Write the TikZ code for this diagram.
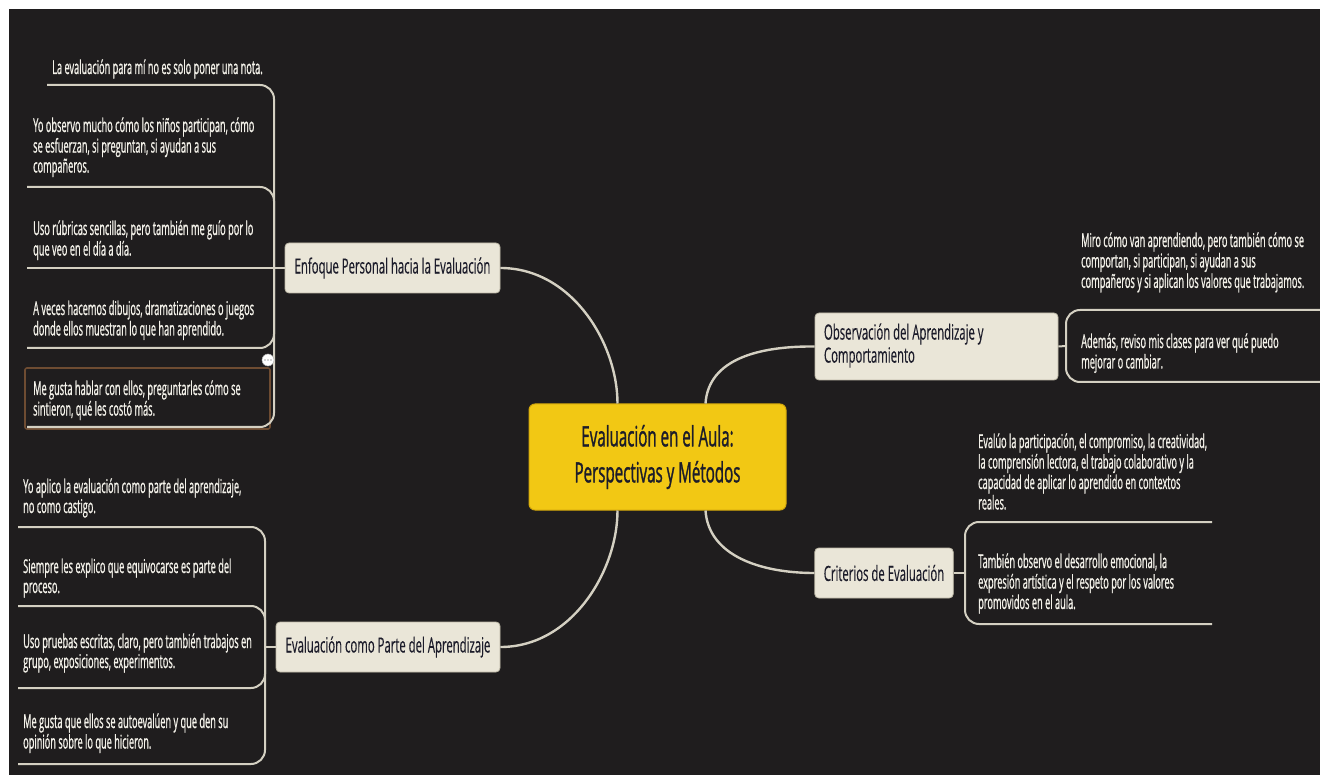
\documentclass[tikz,border=0pt]{standalone}
\usepackage{fontspec}
\setmainfont{Open Sans}
\newfontfamily\leaffont{Open Sans}[FakeStretch=0.485,FakeBold=0.8]
\newfontfamily\topicfont{Open Sans}[FakeStretch=0.54,FakeBold=0.3]
\newfontfamily\centralfont{Open Sans}[FakeStretch=0.54,FakeBold=1]
\usetikzlibrary{calc}
\definecolor{bg}{HTML}{1F1D1E}
\definecolor{linec}{HTML}{D4D0C2}
\definecolor{boxfill}{HTML}{EAE6D8}
\definecolor{boxdraw}{HTML}{BDB8A6}
\definecolor{yel}{HTML}{F2C814}
\definecolor{yeldraw}{HTML}{D4A80C}
\definecolor{boxtext}{HTML}{1C1C2A}
\definecolor{leaftext}{HTML}{F4F2EA}
\definecolor{selc}{HTML}{6E4C32}
\newcommand\mlines[1]{\begin{tabular}[t]{@{}l@{}}#1\end{tabular}}
\newcommand\mlinesc[1]{\begin{tabular}{@{}l@{}}#1\end{tabular}}
\begin{document}
\begin{tikzpicture}[x=1pt,y=-1pt,
  topic/.style={draw=boxdraw, fill=boxfill, rounded corners=4pt, line width=0.8pt,
    text=boxtext, font=\topicfont\fontsize{21}{23}\selectfont, inner xsep=9pt, inner ysep=0pt},
  central/.style={draw=yeldraw, fill=yel, rounded corners=6pt, line width=1pt,
    text=boxtext, font=\centralfont\fontsize{28}{36}\selectfont, align=center, inner sep=0pt},
  leaf/.style={text=leaftext, font=\leaffont\fontsize{19}{20}\selectfont, inner sep=0pt, anchor=base west},
  branch/.style={draw=linec, line width=2.4pt},
  uline/.style={draw=linec, line width=2pt, rounded corners=14pt},
]
% background
\fill[white] (0,0) rectangle (1320,775);
\fill[bg] (9,9) rectangle (1320,775);
\useasboundingbox (0,0) rectangle (1320,775);

% central and main topics
\node[central, minimum width=257pt, minimum height=106pt] (cen) at (657.5,457)
  {Evaluación en el Aula:\\Perspectivas y Métodos};
\node[topic, minimum width=215pt, minimum height=50pt] (ep) at (392.5,268)
  {Enfoque Personal hacia la Evaluación};
\node[topic, minimum width=224pt, minimum height=50pt] (eb) at (388,647)
  {Evaluación como Parte del Aprendizaje};
\node[topic, minimum width=243pt, minimum height=67pt] (ob) at (936.5,346.5)
  {\makebox[225pt][l]{\mlinesc{Observación del Aprendizaje y\\Comportamiento}}};
\node[topic, minimum width=138pt, minimum height=50pt] (cb) at (884,573)
  {Criterios de Evaluación};

% main connectors
\draw[branch] (ep.east) .. controls (572,268) and ($(cen.north west)+(89,-60)$) .. ($(cen.north west)+(89,0)$);
\draw[branch] (eb.east) .. controls (572,647) and ($(cen.south west)+(89,60)$) .. ($(cen.south west)+(89,0)$);
\draw[branch] ($(cen.north west)+(177,0)$) .. controls ($(cen.north west)+(180,-45)$) and (760,346) .. (ob.west);
\draw[branch] ($(cen.south west)+(177,0)$) .. controls ($(cen.south west)+(180,45)$) and (760,573) .. (cb.west);

% selection frame
\draw[selc, line width=1.6pt, rounded corners=2pt] (25,368) rectangle (270,429);

% left top leaves
\coordinate (ltj) at (274,268);
\coordinate (lt1u) at (47,85);
\coordinate (lt2u) at (27,187);
\coordinate (lt3u) at (27,268);
\coordinate (lt4u) at (27,348);
\coordinate (lt5u) at (27,427);
\node[leaf] (lt1) at (52,74) {\mlines{La evaluación para mí no es solo poner una nota.}};
\node[leaf] (lt2) at (33,132) {\mlines{Yo observo mucho cómo los niños participan, cómo\\se esfuerzan, si preguntan, si ayudan a sus\\compañeros.}};
\node[leaf] (lt3) at (33,235) {\mlines{Uso rúbricas sencillas, pero también me guío por lo\\que veo en el día a día.}};
\node[leaf] (lt4) at (33,315) {\mlines{A veces hacemos dibujos, dramatizaciones o juegos\\donde ellos muestran lo que han aprendido.}};
\node[leaf] (lt5) at (33,395) {\mlines{Me gusta hablar con ellos, preguntarles cómo se\\sintieron, qué les costó más.}};
\draw[uline] (ep.west) -- (lt3u);
\draw[uline] (ltj) |- (lt1u);
\draw[uline] (ltj) |- (lt2u);
\draw[uline] (ltj) |- (lt4u);
\draw[uline] (ltj) |- (lt5u);
\node[circle, fill=white, draw=gray!60, line width=0.5pt, minimum size=12pt, inner sep=0pt] (more) at (268,360) {};
\foreach \dx in {-3,0,3} \fill[gray!70] ($(more)+(\dx,0)$) circle (0.9pt);

% left bottom leaves
\coordinate (lbj) at (265,647);
\coordinate (lb1u) at (18,527);
\coordinate (lb2u) at (18,606);
\coordinate (lb3u) at (18,688);
\coordinate (lb4u) at (18,764);
\node[leaf] (lb1) at (23,493) {\mlines{Yo aplico la evaluación como parte del aprendizaje,\\no como castigo.}};
\node[leaf] (lb2) at (23,573) {\mlines{Siempre les explico que equivocarse es parte del\\proceso.}};
\node[leaf] (lb3) at (23,648) {\mlines{Uso pruebas escritas, claro, pero también trabajos en\\grupo, exposiciones, experimentos.}};
\node[leaf] (lb4) at (23,728) {\mlines{Me gusta que ellos se autoevalúen y que den su\\opinión sobre lo que hicieron.}};
\draw[uline] (eb.west) -- (lbj);
\draw[uline] (lbj) |- (lb1u);
\draw[uline] (lbj) |- (lb2u);
\draw[uline] (lbj) |- (lb3u);
\draw[uline] (lbj) |- (lb4u);

% right top leaves
\coordinate (rtj) at (1066,346);
\coordinate (rt1u) at (1320,310);
\coordinate (rt2u) at (1320,382);
\node[leaf] (rt1) at (1081,247) {\mlines{Miro cómo van aprendiendo, pero también cómo se\\comportan, si participan, si ayudan a sus\\compañeros y si aplican los valores que trabajamos.}};
\node[leaf] (rt2) at (1081,348) {\mlines{Además, reviso mis clases para ver qué puedo\\mejorar o cambiar.}};
\draw[uline] (ob.east) -- (rtj);
\draw[uline] (rtj) |- (rt1u);
\draw[uline] (rtj) |- (rt2u);

% right bottom leaves
\coordinate (rbj) at (965,573);
\coordinate (rb1u) at (1212,522);
\coordinate (rb2u) at (1212,624);
\node[leaf] (rb1) at (978,448) {\mlines{Evalúo la participación, el compromiso, la creatividad,\\la comprensión lectora, el trabajo colaborativo y la\\capacidad de aplicar lo aprendido en contextos\\reales.}};
\node[leaf] (rb2) at (978,568) {\mlines{También observo el desarrollo emocional, la\\expresión artística y el respeto por los valores\\promovidos en el aula.}};
\draw[uline] (cb.east) -- (rbj);
\draw[uline] (rbj) |- (rb1u);
\draw[uline] (rbj) |- (rb2u);
\end{tikzpicture}
\end{document}
